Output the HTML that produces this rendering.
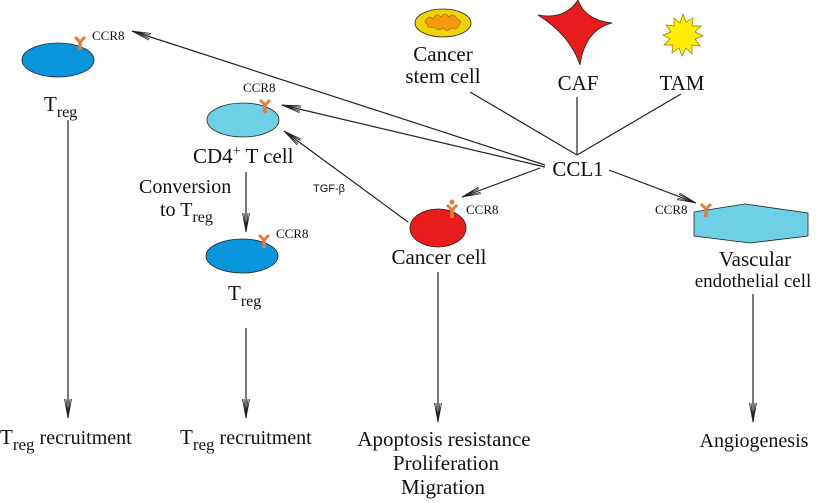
<!DOCTYPE html>
<html><head><meta charset="utf-8"><style>
html,body{margin:0;padding:0;background:#fff;}
svg text{font-family:"Liberation Serif",serif;}
</style></head><body>
<svg width="826" height="503" viewBox="0 0 826 503" xmlns="http://www.w3.org/2000/svg" style="display:block">
<defs>
<marker id="a" markerWidth="20" markerHeight="10" refX="19" refY="5" orient="auto" markerUnits="userSpaceOnUse">
<path d="M0,1.5 L19,5 L0,8.5 M0,3 L19,5 L0,7" fill="none" stroke="#222" stroke-width="0.8"/>
</marker>
<g id="r"><path d="M-5,-6 L0,-1 L5,-6" fill="none" stroke="#e57a3a" stroke-width="3"/><rect x="-1.8" y="-2" width="3.6" height="9" fill="#e57a3a"/></g>
</defs>
<g stroke="#222" stroke-width="1.2" fill="none">
<line x1="470" y1="92" x2="577" y2="155"/>
<line x1="577" y1="97" x2="577" y2="155"/>
<line x1="681" y1="94" x2="577" y2="155"/>
<line x1="545" y1="165" x2="132" y2="31" marker-end="url(#a)"/>
<line x1="545" y1="167" x2="282" y2="105" marker-end="url(#a)"/>
<line x1="540" y1="168" x2="462" y2="197" marker-end="url(#a)"/>
<line x1="609" y1="170" x2="696" y2="203" marker-end="url(#a)"/>
<line x1="408" y1="222" x2="284" y2="131" marker-end="url(#a)"/>
<line x1="246" y1="172" x2="246" y2="232" marker-end="url(#a)"/>
<line x1="68" y1="120" x2="68" y2="418" marker-end="url(#a)"/>
<line x1="246" y1="328" x2="246" y2="418" marker-end="url(#a)"/>
<line x1="438" y1="272" x2="438" y2="422" marker-end="url(#a)"/>
<line x1="753" y1="294" x2="753" y2="422" marker-end="url(#a)"/>
</g>
<ellipse cx="58" cy="60" rx="36" ry="17" fill="#0a96dc" stroke="#222" stroke-width="0.8"/>
<use href="#r" x="80" y="43"/>
<ellipse cx="243" cy="120" rx="36" ry="17" fill="#6dd0e4" stroke="#222" stroke-width="0.8"/>
<use href="#r" x="265" y="106"/>
<ellipse cx="242" cy="256" rx="36" ry="17" fill="#0a96dc" stroke="#222" stroke-width="0.8"/>
<use href="#r" x="264" y="241"/>
<ellipse cx="438" cy="228" rx="28" ry="19" fill="#e81c1c" stroke="#222" stroke-width="0.8"/>
<use href="#r" x="452" y="211"/><circle cx="452" cy="202" r="2.5" fill="#e57a3a"/>
<polygon points="694,212 745,204 808,213 808,236 750,243 694,236" fill="#6dd0e4" stroke="#222" stroke-width="0.8"/>
<use href="#r" x="706" y="210"/>
<ellipse cx="443" cy="23" rx="28" ry="14" fill="#f0d20a" stroke="#222" stroke-width="0.8"/>
<path d="M425,22 q3,-8 8,-3 q3,-7 8,-2 q4,-6 8,0 q5,-5 8,2 q6,2 2,6 q-2,6 -8,3 q-4,5 -8,0 q-5,4 -9,-1 q-6,2 -7,-3z" fill="#f29a0a" stroke="#a06000" stroke-width="0.6"/>
<path d="M538,15 Q565,20 578,0 Q585,20 612,23 Q585,30 580,65 Q570,35 538,15Z" fill="#e81c1c" stroke="#222" stroke-width="0.8"/>
<path d="M683,14 l3,8 7,-4 -1,8 9,0 -6,6 8,4 -8,3 5,7 -8,-1 0,9 -6,-6 -4,8 -3,-8 -7,5 1,-8 -9,0 6,-6 -7,-4 8,-3 -5,-7 8,1 0,-8 6,5z" fill="#ffee00" stroke="#8a7a00" stroke-width="0.7"/>
<g fill="#111" font-size="13">
<text x="92" y="40">CCR8</text>
<text x="243" y="92">CCR8</text>
<text x="276" y="238">CCR8</text>
<text x="466" y="214">CCR8</text>
<text x="655" y="214">CCR8</text>
<text x="313" y="192" style="font-family:'Liberation Sans',sans-serif" font-size="11">TGF-β</text>
</g>
<g fill="#111" font-size="21">
<text x="44" y="111">T<tspan font-size="16" dy="6">reg</tspan></text>
<text x="193" y="163">CD4<tspan font-size="14" dy="-8">+</tspan><tspan dy="8"> T cell</tspan></text>
<text x="139" y="193" font-size="20">Conversion</text>
<text x="160" y="216" font-size="20">to T<tspan font-size="16" dy="6">reg</tspan></text>
<text x="228" y="300">T<tspan font-size="16" dy="6">reg</tspan></text>
<text x="443" y="61" text-anchor="middle">Cancer</text>
<text x="443" y="83" text-anchor="middle">stem cell</text>
<text x="578" y="90" text-anchor="middle">CAF</text>
<text x="682" y="90" text-anchor="middle">TAM</text>
<text x="578" y="176" text-anchor="middle" font-size="21">CCL1</text>
<text x="439" y="264" text-anchor="middle">Cancer cell</text>
<text x="755" y="266" text-anchor="middle">Vascular</text>
<text x="753" y="287" text-anchor="middle" font-size="19">endothelial cell</text>
<text x="0" y="444" font-size="21">T<tspan font-size="17" dy="6">reg</tspan><tspan dy="-6" font-size="20"> recruitment</tspan></text>
<text x="180" y="444" font-size="21">T<tspan font-size="17" dy="6">reg</tspan><tspan dy="-6" font-size="20"> recruitment</tspan></text>
<text x="444" y="446" text-anchor="middle" font-size="21">Apoptosis resistance</text>
<text x="446" y="470" text-anchor="middle" font-size="21">Proliferation</text>
<text x="443" y="494" text-anchor="middle" font-size="21">Migration</text>
<text x="754" y="447" text-anchor="middle" font-size="20">Angiogenesis</text>
</g>
</svg>
</body></html>
